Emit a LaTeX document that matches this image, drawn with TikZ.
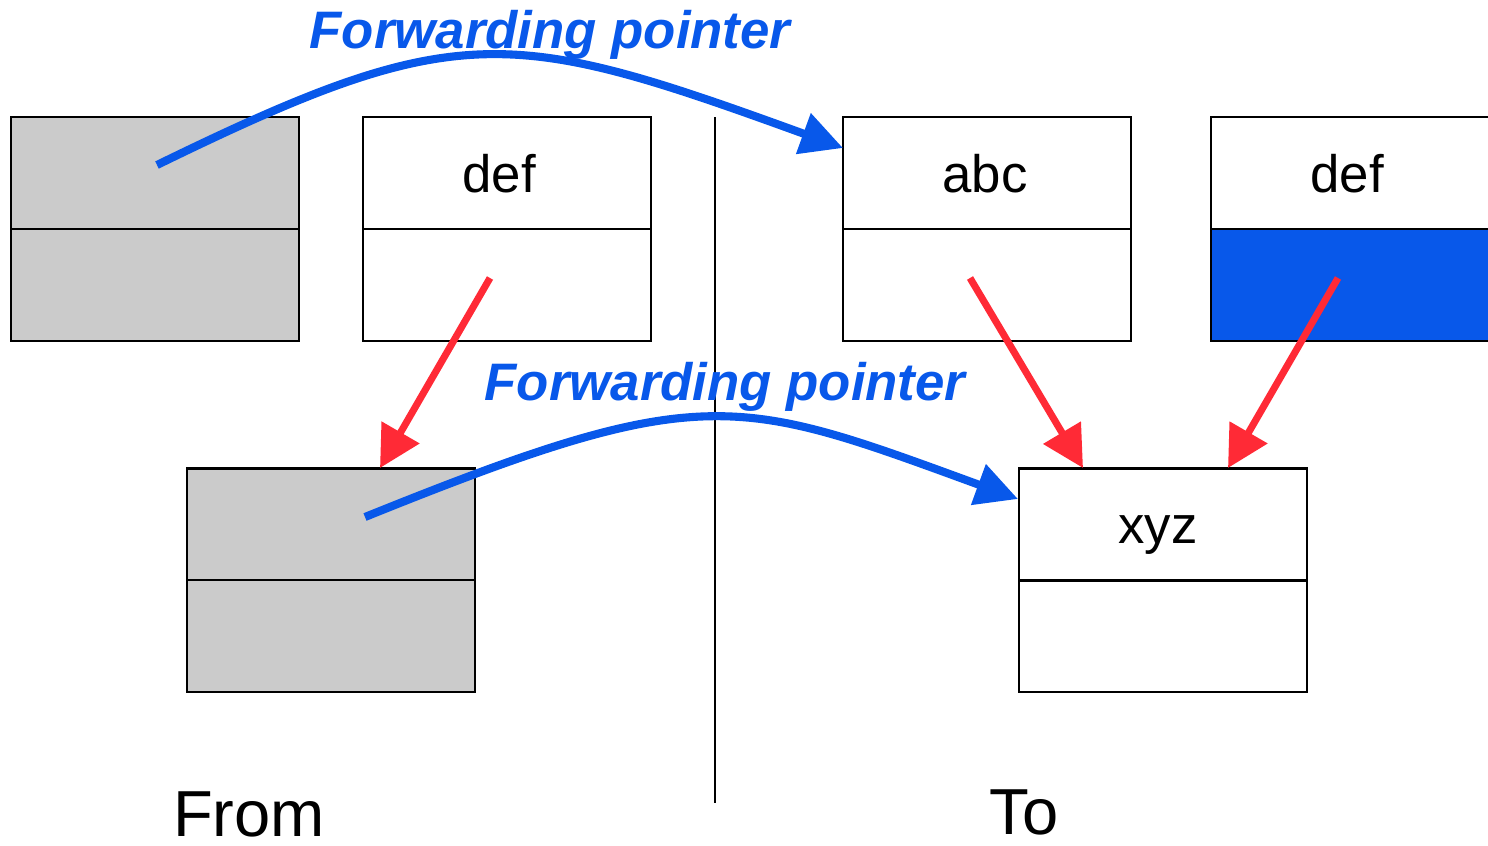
\documentclass[tikz,border=0pt]{standalone}
\usepackage{fontspec}
\setmainfont{Liberation Sans}
\usetikzlibrary{arrows.meta}
\definecolor{fpblue}{RGB}{8,88,234}
\definecolor{fpred}{RGB}{255,42,54}
\definecolor{fpgray}{RGB}{203,203,203}
\begin{document}
\begin{tikzpicture}[x=0.01cm,y=-0.01cm,
 half/.style={draw=black,line width=0.6pt,minimum width=2.88cm,minimum height=1.12cm,inner sep=0pt,outer sep=0pt},
 grayhalf/.style={half,fill=fpgray},
 bluehalf/.style={half,fill=fpblue},
 boxtext/.style={font=\fontsize{15}{18}\selectfont,inner sep=0pt,anchor=base},
 fwd/.style={draw=fpblue,line width=2.3pt,-{Triangle[length=12pt,width=11.8pt]}},
 redarr/.style={draw=fpred,line width=2pt,-{Triangle[length=11.7pt,width=12pt]}},
 fwdlabel/.style={text=fpblue,font=\fontsize{15}{18}\selectfont\bfseries\itshape,inner sep=0pt,anchor=base},
 sidelabel/.style={font=\fontsize{18.5}{22}\selectfont,inner sep=0pt,anchor=base}]
\useasboundingbox (0,0) rectangle (1488,845);
\clip (0,0) rectangle (1488,845);
% divider line
\coordinate (vtop) at (715,117);
\coordinate (vbot) at (715,803);
\draw[line width=0.6pt] (vtop) -- (vbot);
% boxes
\node[grayhalf] (g1t) at (155,173) {};
\node[grayhalf] (g1b) at (155,285) {};
\node[half] (d1t) at (507,173) {};
\node[half] (d1b) at (507,285) {};
\node[half] (at) at (987,173) {};
\node[half] (ab) at (987,285) {};
\node[half] (d2t) at (1355,173) {};
\node[bluehalf] (d2b) at (1355,285) {};
\node[grayhalf] (g2t) at (331,524.5) {};
\node[grayhalf] (g2b) at (331,636) {};
\node[half] (xt) at (1163,524.5) {};
\node[half] (xb) at (1163,636) {};
% box texts
\node[boxtext] (d1txt) at (499,192) {def};
\node[boxtext] (atxt) at (985,192) {abc};
\node[boxtext] (d2txt) at (1347,192) {def};
\node[boxtext] (xtxt) at (1158,543) {xyz};
% labels
\node[fwdlabel] (fp1) at (550,48) {Forwarding pointer};
\node[fwdlabel] (fp2) at (725,400) {Forwarding pointer};
\node[sidelabel] (from) at (249,836) {From};
\node[sidelabel] (to) at (1024,834) {To};
% red arrows
\coordinate (r1s) at (490,278); \coordinate (r1e) at (380,468);
\coordinate (r2s) at (970,278); \coordinate (r2e) at (1083,468);
\coordinate (r3s) at (1338,278); \coordinate (r3e) at (1228,468);
\draw[redarr] (r1s) -- (r1e);
\draw[redarr] (r2s) -- (r2e);
\draw[redarr] (r3s) -- (r3e);
% forwarding pointers
\coordinate (b1s) at (157,165); \coordinate (b1e) at (843,148);
\coordinate (b2s) at (365,517); \coordinate (b2e) at (1018,499);
\draw[fwd] (b1s) .. controls (458,18) and (510,27) .. (b1e);
\draw[fwd] (b2s) .. controls (704,380) and (736,396) .. (b2e);
\end{tikzpicture}
\end{document}
